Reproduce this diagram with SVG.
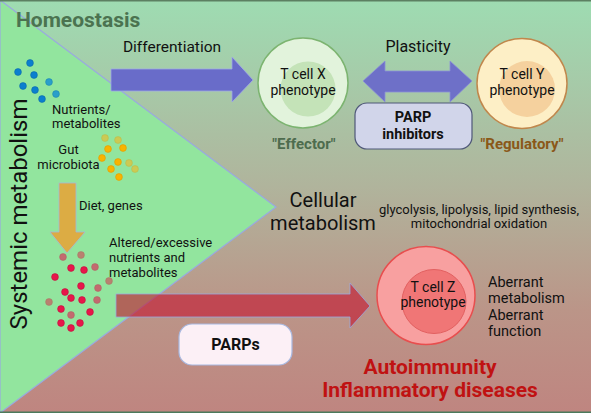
<svg xmlns="http://www.w3.org/2000/svg" width="591" height="413" viewBox="0 0 591 413">
<defs>
<linearGradient id="bg" x1="0" y1="0" x2="0" y2="1">
<stop offset="0" stop-color="#9edcb2"/>
<stop offset="0.45" stop-color="#b0b49c"/>
<stop offset="0.75" stop-color="#bb9588"/>
<stop offset="1" stop-color="#bf8580"/>
</linearGradient>
<style>
text{font-family:Roboto,"Liberation Sans",sans-serif;fill:#111}
.lbl{font-size:13px}
.mid{text-anchor:middle}
.cell{font-size:14px;text-anchor:middle}
.b{font-weight:bold}
.db{fill:#0b7fcf;stroke:#0a6aa8;stroke-width:0.6}
.dbl{fill:#2a9fca;stroke:#1c88b0;stroke-width:0.6}
.dy{fill:#f8b400;stroke:#e09a00;stroke-width:0.6}
.dyl{fill:#e0c23a;stroke:#c8b030;stroke-width:0.6;opacity:0.75}
.dr{fill:#e8164a;stroke:#c01040;stroke-width:0.6}
.drl{fill:#d04c64;stroke:#b84458;stroke-width:0.6;opacity:0.8}
.dbr{fill:#c07068;stroke:#b06860;stroke-width:0.6;opacity:0.85}
.dis{font-size:21px;font-weight:bold;text-anchor:middle;fill:#c01212}
</style>
</defs>
<rect x="0" y="0" width="591" height="413" fill="url(#bg)"/>
<polygon points="0,0 276,207 0,413" fill="#92e59e" stroke="#9aa8e0" stroke-width="1.2"/>
<line x1="0" y1="0.8" x2="591" y2="0.8" stroke="#5c8062" stroke-width="1.6"/>
<line x1="0" y1="412.2" x2="591" y2="412.2" stroke="#4c7a5c" stroke-width="1.6"/>

<g id="connectors">
<polygon id="arrow-diff" points="111,69 232,69 232,57 253,80 232,102 232,91 111,91" fill="#6464cc" fill-opacity="0.92" stroke="#a0a8e8" stroke-width="0.8"/>
<polygon id="arrow-plast" points="363,81 385,61 385,71 450,71 450,61 472,81 450,102 450,92 385,92 385,102" fill="#6e70c8" stroke="#8c90d8" stroke-width="0.8"/>
<polygon id="arrow-diet" points="59,183 76,183 76,232 85,232 67,253 50,232 59,232" fill="#dcac44" stroke="#a8b4d8" stroke-width="0.8"/>
<polygon id="arrow-red" points="116,294 350,294 350,283 370,306 350,328 350,317 116,317" fill="#c41730" fill-opacity="0.62" stroke="#9aa8e0" stroke-width="0.8"/>
</g>

<text x="16" y="27" class="b" style="font-size:21px;fill:#4b7350">Homeostasis</text>
<text x="172" y="52" class="mid" style="font-size:15.5px">Differentiation</text>
<text x="418" y="52" class="mid" style="font-size:16px">Plasticity</text>

<g id="systemic">
<text transform="translate(27,214) rotate(-90)" class="mid" style="font-size:24px">Systemic metabolism</text>
</g>

<g id="nutrients">
<circle cx="30" cy="63" r="3.4" class="db"/>
<circle cx="18" cy="72" r="3.4" class="db"/>
<circle cx="34" cy="75" r="3.4" class="db"/>
<circle cx="23" cy="86" r="3.4" class="db"/>
<circle cx="49" cy="82" r="3.4" class="dbl"/>
<circle cx="35" cy="90" r="3.4" class="db"/>
<circle cx="56" cy="94" r="3.4" class="dbl"/>
<circle cx="42" cy="99" r="3.4" class="db"/>
<text x="52" y="114" class="lbl">Nutrients/</text>
<text x="52" y="128" class="lbl">metabolites</text>
</g>

<g id="microbiota">
<circle cx="105" cy="138" r="3.4" class="dyl"/>
<circle cx="118" cy="140" r="3.4" class="dyl"/>
<circle cx="108" cy="149" r="3.4" class="dy"/>
<circle cx="123" cy="148" r="3.4" class="dy"/>
<circle cx="102" cy="158" r="3.4" class="dy"/>
<circle cx="118" cy="162" r="3.4" class="dy"/>
<circle cx="129" cy="163" r="3.4" class="dyl"/>
<circle cx="111" cy="169" r="3.4" class="dy"/>
<circle cx="135" cy="169" r="3.4" class="dyl"/>
<circle cx="119" cy="177" r="3.4" class="dy"/>
<text x="68.5" y="154" class="lbl mid">Gut</text>
<text x="68.5" y="169" class="lbl mid">microbiota</text>
</g>

<text x="79" y="210" style="font-size:13px">Diet, genes</text>

<g id="altered">
<circle cx="63" cy="257" r="3.4" class="drl"/>
<circle cx="81" cy="255" r="3.4" class="dbr"/>
<circle cx="71" cy="268" r="3.4" class="dr"/>
<circle cx="84" cy="270" r="3.4" class="dr"/>
<circle cx="95" cy="267" r="3.4" class="drl"/>
<circle cx="55" cy="277" r="3.4" class="dr"/>
<circle cx="109" cy="281" r="3.4" class="dbr"/>
<circle cx="81" cy="286" r="3.4" class="dr"/>
<circle cx="65" cy="292" r="3.4" class="dr"/>
<circle cx="98" cy="288" r="3.4" class="drl"/>
<circle cx="71" cy="298" r="3.4" class="dr"/>
<circle cx="82" cy="300" r="3.4" class="dr"/>
<circle cx="97" cy="300" r="3.4" class="drl"/>
<circle cx="49" cy="302" r="3.4" class="dbr"/>
<circle cx="61" cy="309" r="3.4" class="dr"/>
<circle cx="71" cy="315" r="3.4" class="drl"/>
<circle cx="90" cy="312" r="3.4" class="dr"/>
<circle cx="61" cy="323" r="3.4" class="dr"/>
<circle cx="80" cy="323" r="3.4" class="dr"/>
<circle cx="71" cy="328" r="3.4" class="dr"/>
<text x="109" y="247" class="lbl">Altered/excessive</text>
<text x="109" y="262" class="lbl">nutrients and</text>
<text x="109" y="277" class="lbl">metabolites</text>
</g>

<g id="cell-x">
<circle cx="303" cy="83" r="45" fill="#e2f3dc" stroke="#7cb470" stroke-width="1.5"/>
<circle cx="308" cy="89" r="27.5" fill="#c4e3b8"/>
<text x="303" y="79" class="cell">T cell X</text>
<text x="303" y="95" class="cell">phenotype</text>
<text x="304" y="149" class="b mid" style="font-size:15px;fill:#4e6c4e">"Effector"</text>
</g>

<g id="cell-y">
<circle cx="522" cy="83.5" r="45" fill="#fdefc6" stroke="#c0874c" stroke-width="1.5"/>
<circle cx="527" cy="89" r="28" fill="#f5d19e"/>
<text x="522" y="79" class="cell">T cell Y</text>
<text x="522" y="95" class="cell">phenotype</text>
<text x="522" y="149" class="b mid" style="font-size:15px;fill:#8a5818">"Regulatory"</text>
</g>

<g id="parp-inhibitors">
<rect x="355" y="103" width="117" height="46" rx="12" fill="#d1d5ea" stroke="#4f5878" stroke-width="1.2"/>
<text x="413" y="122" class="b mid" style="font-size:14.5px">PARP</text>
<text x="413" y="139" class="b mid" style="font-size:14.5px">inhibitors</text>
</g>

<g id="cellular">
<text x="323" y="207" class="mid" style="font-size:20px">Cellular</text>
<text x="323" y="230" class="mid" style="font-size:20px">metabolism</text>
<text x="479" y="214" class="mid" style="font-size:13px">glycolysis, lipolysis, lipid synthesis,</text>
<text x="479" y="228" class="mid" style="font-size:13px">mitochondrial oxidation</text>
</g>

<g id="parps">
<rect x="179" y="324" width="113" height="41" rx="13" fill="#fcf0f6" stroke="#a8b8e0" stroke-width="1.2"/>
<text x="235.5" y="350" class="b mid" style="font-size:16px">PARPs</text>
</g>

<g id="cell-z">
<circle cx="426" cy="295.5" r="49" fill="#f8a0a0" stroke="#e84e4e" stroke-width="1.5"/>
<circle cx="434" cy="301.5" r="32" fill="#f07676" stroke="#e26060" stroke-width="1"/>
<text x="433" y="292" class="cell">T cell Z</text>
<text x="433" y="307" class="cell">phenotype</text>
<text x="488" y="287" style="font-size:14.5px">Aberrant</text>
<text x="488" y="303" style="font-size:14.5px">metabolism</text>
<text x="488" y="320" style="font-size:14.5px">Aberrant</text>
<text x="488" y="336" style="font-size:14.5px">function</text>
</g>

<g id="disease">
<text x="430" y="374" class="dis">Autoimmunity</text>
<text x="430" y="397" class="dis">Inflammatory diseases</text>
</g>
</svg>
